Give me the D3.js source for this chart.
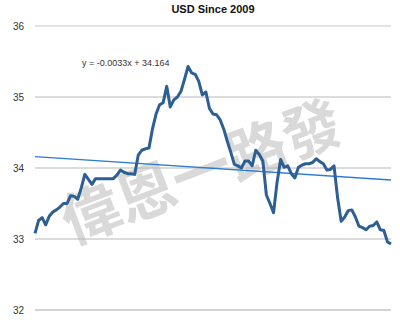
<!DOCTYPE html>
<html>
<head>
<meta charset="utf-8">
<script src="https://cdn.jsdelivr.net/npm/d3@7"></script>
<style>
  html, body { margin: 0; padding: 0; background: #fff; }
  svg { display: block; }
</style>
</head>
<body>
<svg id="chart" width="400" height="323"></svg>
<script>
const title = "USD Since 2009";
const yTicks = [32, 33, 34, 35, 36];
const equation = "y = -0.0033x + 34.164";
const trendSlope = -0.0033;
const trendIntercept = 34.164;
const watermark = "偉恩一路發";
const usd = [
  33.08, 33.26, 33.30, 33.20, 33.32, 33.38, 33.41, 33.45, 33.50, 33.50,
  33.61, 33.60, 33.56, 33.72, 33.91, 33.84, 33.77, 33.85, 33.85, 33.85,
  33.85, 33.85, 33.85, 33.90, 33.97, 33.94, 33.92, 33.92, 33.91, 34.18,
  34.25, 34.27, 34.28, 34.55, 34.76, 34.89, 34.92, 35.15, 34.86, 34.96,
  35.00, 35.08, 35.25, 35.43, 35.34, 35.32, 35.22, 35.03, 35.07, 34.84,
  34.76, 34.75, 34.68, 34.55, 34.38, 34.22, 34.05, 34.03, 34.00, 34.10,
  34.10, 34.03, 34.25, 34.19, 34.10, 33.62, 33.50, 33.37, 33.80, 34.12,
  34.01, 34.03, 33.92, 33.86, 34.01, 34.04, 34.06, 34.06, 34.08, 34.13,
  34.09, 34.06, 33.97, 33.98, 34.03, 33.58, 33.25, 33.31, 33.40, 33.41,
  33.31, 33.18, 33.16, 33.13, 33.18, 33.19, 33.24, 33.13, 33.12, 32.96,
  32.93
];

const svg = d3.select("#chart");
const x = d3.scaleLinear().domain([0, usd.length - 1]).range([35, 391]);
const y = d3.scaleLinear().domain([32, 36]).range([310, 26]);

// watermark
svg.append("text")
  .attr("transform", "translate(200,168) rotate(-21)")
  .attr("text-anchor", "middle")
  .attr("dominant-baseline", "central")
  .attr("font-family", "'Noto Sans CJK TC', 'Noto Sans CJK SC', sans-serif")
  .attr("font-weight", "bold")
  .attr("font-size", 59)
  .attr("letter-spacing", 0)
  .attr("fill", "#d9d9d9")
  .text(watermark);

// grid lines
const grid = svg.append("g");
grid.selectAll("line").data(yTicks).join("line")
  .attr("x1", 35).attr("x2", 391)
  .attr("y1", d => y(d)).attr("y2", d => y(d))
  .attr("stroke", d => d === 36 ? "#e2e2e2" : (d === 32 ? "#a8a8a8" : "#b8b8b8"))
  .attr("stroke-width", d => d === 36 ? 2 : 1);

// y axis labels
const yAxis = d3.axisLeft(y).tickValues(yTicks).tickFormat(d3.format("d")).tickSize(0).tickPadding(0);
const ya = svg.append("g").attr("transform", "translate(24,0)").call(yAxis);
ya.select(".domain").remove();
ya.selectAll("text")
  .attr("font-family", "'Liberation Sans', Arial, sans-serif")
  .attr("font-size", 10)
  .attr("fill", "#333");

// title
svg.append("text")
  .attr("x", 213).attr("y", 13)
  .attr("text-anchor", "middle")
  .attr("font-family", "'Liberation Sans', Arial, sans-serif")
  .attr("font-weight", "bold")
  .attr("font-size", 11)
  .attr("fill", "#111")
  .text(title);

// trend line
const trendIdx = [0, usd.length - 1];
svg.append("path")
  .datum(trendIdx)
  .attr("d", d3.line().x(d => x(d)).y(d => y(trendIntercept + trendSlope * (d + 1))))
  .attr("fill", "none")
  .attr("stroke", "#2f7ad0")
  .attr("stroke-width", 1.3);

// data line
svg.append("path")
  .datum(usd)
  .attr("d", d3.line().x((d, i) => x(i)).y(d => y(d)))
  .attr("fill", "none")
  .attr("stroke", "#2c5f94")
  .attr("stroke-width", 3)
  .attr("stroke-linejoin", "round");

// equation
svg.append("text")
  .attr("x", 82).attr("y", 66)
  .attr("font-family", "'Liberation Sans', Arial, sans-serif")
  .attr("font-size", 9)
  .attr("fill", "#333")
  .text(equation);
</script>
</body>
</html>
